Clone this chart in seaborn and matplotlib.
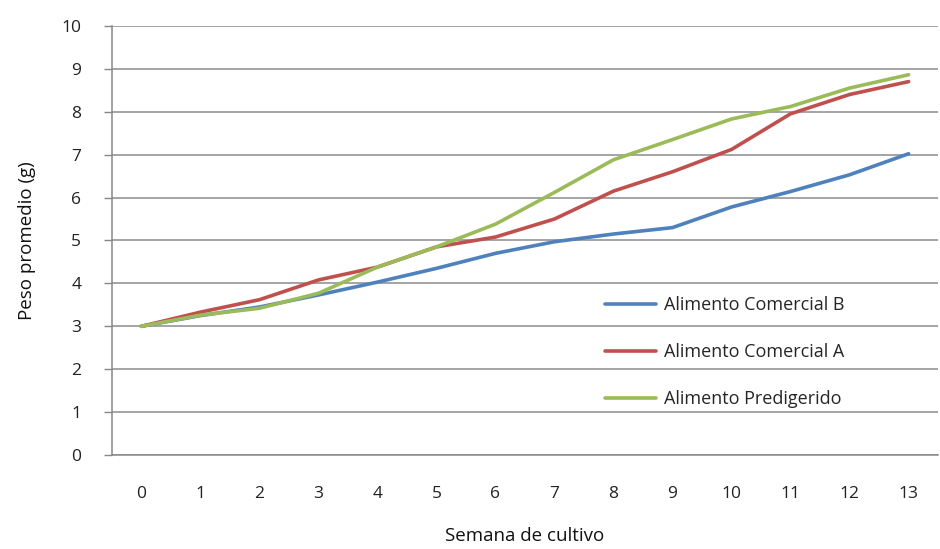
import matplotlib
matplotlib.use("Agg")
import matplotlib.pyplot as plt
import seaborn as sns
import pandas as pd
import numpy as np

semanas = list(range(14))
comercial_b = [3.0, 3.25, 3.45, 3.73, 4.03, 4.35, 4.7, 4.97, 5.15, 5.3, 5.78, 6.14, 6.53, 7.02]
comercial_a = [3.0, 3.33, 3.62, 4.08, 4.38, 4.85, 5.08, 5.5, 6.15, 6.6, 7.12, 7.95, 8.4, 8.7]
predigerido = [3.0, 3.26, 3.42, 3.77, 4.38, 4.85, 5.38, 6.12, 6.88, 7.35, 7.83, 8.12, 8.55, 8.86]
series_names = ["Alimento Comercial B", "Alimento Comercial A", "Alimento Predigerido"]
colors = ["#4F81BD", "#C0504D", "#9BBB59"]

df = pd.DataFrame({
    "Semana": semanas * 3,
    "Peso": comercial_b + comercial_a + predigerido,
    "Serie": sum([[n] * len(semanas) for n in series_names], []),
})

sns.set_style("white")
plt.rcParams['font.family'] = ['Open Sans', 'DejaVu Sans']

fig = plt.figure(figsize=(9.4, 5.49), dpi=100)
ax = fig.add_axes([0.119, 0.171, 0.879, 0.782])

sns.lineplot(data=df, x="Semana", y="Peso", hue="Serie", hue_order=series_names,
             palette=colors, linewidth=2.6, ax=ax, zorder=3)

ax.set_xlim(-0.5, 13.5)
ax.set_ylim(0, 10)
ax.set_yticks(range(0, 11))
ax.set_yticklabels([str(i) for i in range(0, 11)])
ax.set_xticks(semanas)
ax.set_xticklabels([str(s) for s in semanas])
ax.set_xticks(np.arange(-0.5, 14, 1), minor=True)
ax.tick_params(axis="x", which="major", length=0, pad=22, labelsize=12.5, colors="#222222")
ax.tick_params(axis="x", which="minor", length=6, width=1, color="#888888", direction="out")
ax.tick_params(axis="y", length=6, width=1, color="#888888", direction="out", pad=16,
               labelsize=12.5, labelcolor="#222222", left=True)

ax.grid(axis="y", color="#8c8c8c", linewidth=1.1, zorder=0)
ax.grid(axis="x", visible=False)
for s in ["top", "right"]:
    ax.spines[s].set_visible(False)
ax.spines["left"].set_color("#888888")
ax.spines["bottom"].set_color("#888888")
ax.spines["left"].set_linewidth(1.1)
ax.spines["bottom"].set_linewidth(1.1)

ax.set_xlabel("Semana de cultivo", fontsize=13.5, labelpad=18, color="#111111")
ax.set_ylabel("Peso promedio (g)", fontsize=13.5, labelpad=18, color="#111111")

leg = ax.legend(loc="upper left", bbox_to_anchor=(0.597, 0.371), frameon=False,
                fontsize=13, labelspacing=1.62, handlelength=2.8, handletextpad=0.45,
                borderaxespad=0, borderpad=0)
for line in leg.get_lines():
    line.set_linewidth(2.6)

fig.savefig("out.png", dpi=100)
